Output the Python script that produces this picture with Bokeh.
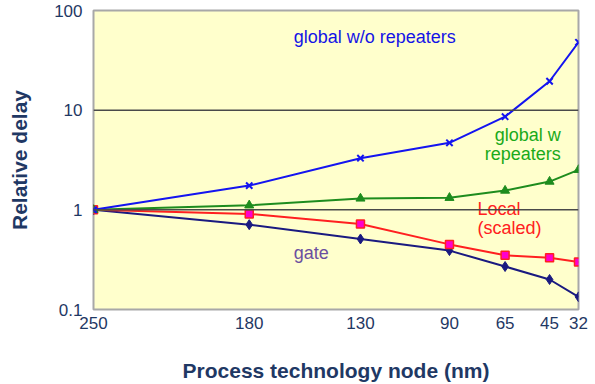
from bokeh.plotting import figure
from bokeh.models import Range1d, FixedTicker, NumeralTickFormatter, Span, ColumnDataSource
from bokeh.core.properties import value
from bokeh.embed import file_html
from bokeh.resources import INLINE

# ---- data ----
nodes = [250, 180, 130, 90, 65, 45, 32]          # process technology node (nm)
global_wo_repeaters = [1.0, 1.75, 3.3, 4.7, 8.6, 19.5, 48.0]
global_w_repeaters = [1.0, 1.11, 1.30, 1.32, 1.56, 1.92, 2.52]
local_scaled = [1.0, 0.91, 0.72, 0.45, 0.35, 0.33, 0.30]
gate = [1.0, 0.71, 0.51, 0.39, 0.27, 0.20, 0.134]
y_ticks = [0.1, 1, 10, 100]

FONT = "Liberation Sans"
NAVY_TXT = "#1F3864"

p = figure(width=595, height=384, x_range=Range1d(250, 32), y_range=Range1d(0.1, 100),
           y_axis_type="log", output_backend="svg", toolbar_location=None,
           min_border_left=93, min_border_right=17, min_border_top=10, min_border_bottom=75)

p.background_fill_color = "#FFFFCC"
p.border_fill_color = "white"
p.outline_line_color = "#A8A8A8"
p.outline_line_width = 2
p.grid.grid_line_color = None

for ax in (p.xaxis, p.yaxis):
    ax.axis_line_color = None
    ax.major_tick_line_color = None
    ax.minor_tick_line_color = None
    ax.major_tick_out = 0
    ax.major_tick_in = 0
    ax.minor_tick_out = 0
    ax.minor_tick_in = 0
    ax.major_label_text_font = FONT
    ax.major_label_text_font_size = "17px"
    ax.major_label_text_color = NAVY_TXT
    ax.axis_label_text_font = FONT
    ax.axis_label_text_font_size = "21px"
    ax.axis_label_text_font_style = "bold"
    ax.axis_label_text_color = NAVY_TXT

p.xaxis.ticker = FixedTicker(ticks=nodes)
p.xaxis.axis_label = "Process technology node (nm)"
p.xaxis.major_label_standoff = 7
p.xaxis.axis_label_standoff = 27

p.yaxis.ticker = FixedTicker(ticks=y_ticks)
p.yaxis.formatter = NumeralTickFormatter(format="0.[0]")
p.yaxis.axis_label = "Relative delay"
p.yaxis.major_label_standoff = 11
p.yaxis.axis_label_standoff = 20

# reference lines
for loc in (1, 10):
    p.add_layout(Span(location=loc, dimension="width", line_color="#4A4A4A", line_width=1.5))

src = ColumnDataSource(dict(node=nodes, gwo=global_wo_repeaters, gw=global_w_repeaters,
                            loc=local_scaled, gate=gate))

# gate
p.line("node", "gate", source=src, line_color="#1A1A80", line_width=2)
p.scatter("node", "gate", source=src, marker="diamond", size=10,
          fill_color="#1A1A80", line_color="#1A1A80")
# local (scaled)
p.line("node", "loc", source=src, line_color="#FF2020", line_width=2)
p.scatter("node", "loc", source=src, marker="square", size=8,
          fill_color="#FF00CC", line_color="#FF2020", line_width=1.5)
# global w repeaters
p.line("node", "gw", source=src, line_color="#1E8C1E", line_width=2)
p.scatter("node", "gw", source=src, marker="triangle", size=9,
          fill_color="#1E8C1E", line_color="#1E8C1E")
# global w/o repeaters
p.line("node", "gwo", source=src, line_color="#1414F0", line_width=2)
p.scatter("node", "gwo", source=src, marker="x", size=9,
          line_color="#1414F0", line_width=2)

# annotations
def label(x, y, txt, color, align="left"):
    p.text(x=[x], y=[y], text=[txt], text_font=value(FONT), text_font_size="18px",
           text_color=color, text_align=align, text_baseline="middle")

label(160, 53.6, "global w/o repeaters", "#1414E6")
label(40, 5.57, "global w", "#1AAA1A", "right")
label(40, 3.67, "repeaters", "#1AAA1A", "right")
label(77.4, 1.01, "Local", "#FF2020")
label(77.4, 0.65, "(scaled)", "#FF2020")
label(160, 0.373, "gate", "#6B4FA0")

open("out.html", "w").write(file_html(p, INLINE))
